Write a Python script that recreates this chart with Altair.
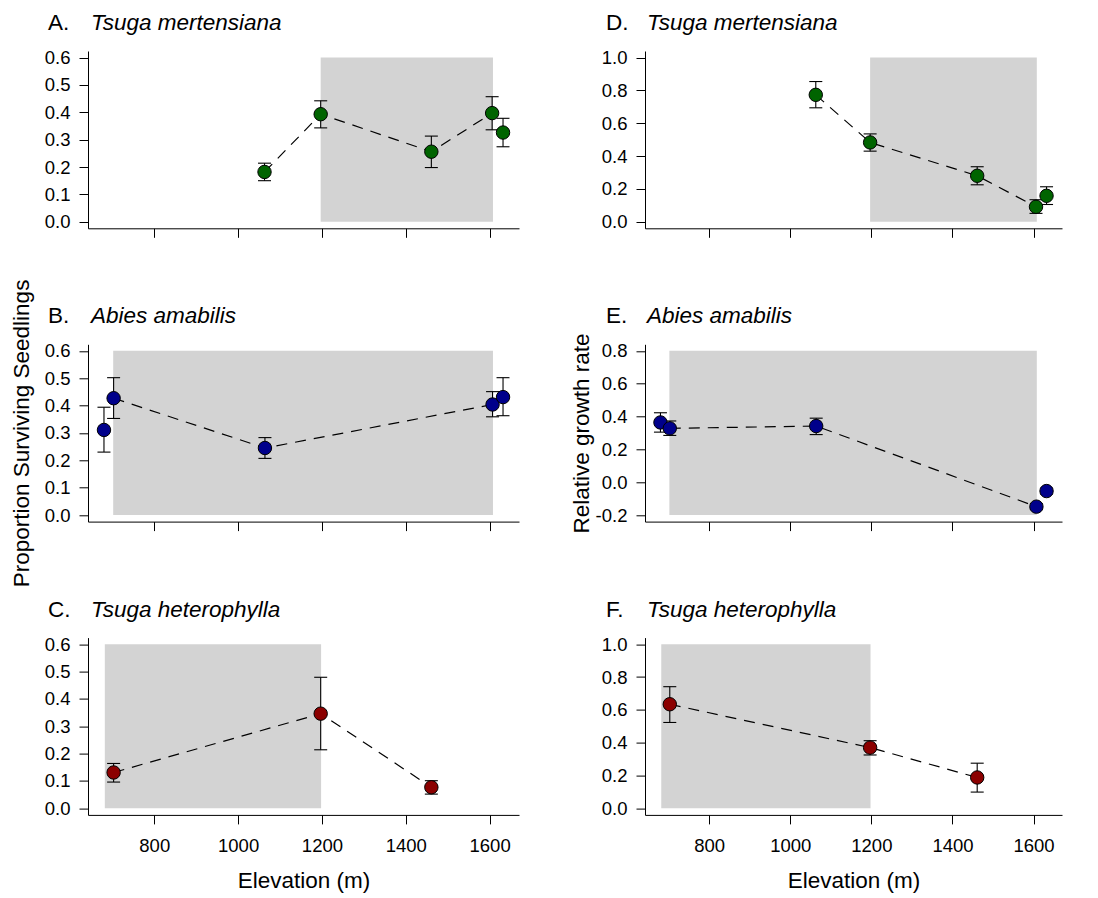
import altair as alt
import pandas as pd

# ---------------- data ----------------
X_TICKS = [800, 1000, 1200, 1400, 1600]
X_DOMAIN = [641.9, 1670.1]

# A. Tsuga mertensiana - proportion surviving seedlings
a_elev = [1063, 1197, 1461, 1606, 1632]
a_mean = [0.182, 0.393, 0.256, 0.397, 0.326]
a_lo = [0.150, 0.343, 0.198, 0.336, 0.274]
a_hi = [0.214, 0.442, 0.313, 0.457, 0.378]
a_join = [True, True, True, True, False]

# B. Abies amabilis - proportion surviving seedlings
b_elev = [680, 703, 1064, 1607, 1632]
b_mean = [0.311, 0.427, 0.245, 0.404, 0.431]
b_lo = [0.230, 0.353, 0.207, 0.359, 0.363]
b_hi = [0.394, 0.502, 0.283, 0.451, 0.502]
b_join = [False, True, True, True, False]

# C. Tsuga heterophylla - proportion surviving seedlings
c_elev = [703, 1197, 1461]
c_mean = [0.131, 0.346, 0.077]
c_lo = [0.096, 0.214, 0.052]
c_hi = [0.164, 0.479, 0.101]
c_join = [True, True, True]

# D. Tsuga mertensiana - relative growth rate
d_elev = [1063, 1197, 1461, 1606, 1632]
d_mean = [0.773, 0.483, 0.280, 0.091, 0.158]
d_lo = [0.694, 0.430, 0.225, 0.051, 0.105]
d_hi = [0.854, 0.535, 0.335, 0.134, 0.213]
d_join = [True, True, True, True, False]

# E. Abies amabilis - relative growth rate
e_elev = [680, 703, 1064, 1607, 1632]
e_mean = [0.364, 0.328, 0.342, -0.149, -0.054]
e_lo = [0.305, 0.285, 0.290, -0.167, -0.072]
e_hi = [0.423, 0.373, 0.390, -0.131, -0.036]
e_join = [False, True, True, True, False]

# F. Tsuga heterophylla - relative growth rate
f_elev = [703, 1197, 1461]
f_mean = [0.634, 0.370, 0.188]
f_lo = [0.523, 0.325, 0.099]
f_hi = [0.741, 0.412, 0.275]
f_join = [True, True, True]

# shaded elevation bands
shade_a = [1197, 1608]
shade_b = [702, 1608]
shade_c = [682, 1198]

Y_SURV = [0.0, 0.1, 0.2, 0.3, 0.4, 0.5, 0.6]
Y_RGR = [0.0, 0.2, 0.4, 0.6, 0.8, 1.0]
Y_RGR_E = [-0.2, 0.0, 0.2, 0.4, 0.6, 0.8]

GREEN = "#006400"
BLUE = "#00008B"
RED = "#8B0000"
SHADE = "#D3D3D3"

FONT = "Liberation Sans"
LAB = 18.5
TIT = 22.5
W_LEFT = 431
W_RIGHT = 417
H = 177.3
TITLE_Y = -39


def ext(lo, hi):
    r = hi - lo
    return [lo - 0.04 * r, hi + 0.04 * r]


def panel(elev, mean, lo, hi, join, color, shade, yvals, letter, species,
          width, letter_x, species_x, xlabels=False, ytitle=None, ytitle_x=-52):
    df = pd.DataFrame({"elev": elev, "mean": mean, "lo": lo, "hi": hi, "join": join})
    xs = alt.Scale(domain=X_DOMAIN, nice=False, zero=False)
    ys = alt.Scale(domain=ext(yvals[0], yvals[-1]), nice=False, zero=False)

    xaxis_kw = dict(values=X_TICKS, grid=False, tickSize=9, tickColor="black",
                    domainColor="black", tickWidth=1, domainWidth=1,
                    labelFlush=False, labelOverlap=False, format="d")
    if xlabels:
        xaxis = alt.Axis(labels=True, labelFontSize=LAB, labelColor="black",
                         labelPadding=13, labelFont=FONT,
                         title="Elevation (m)", titleFontSize=TIT, titleFont=FONT,
                         titleFontWeight="normal", titleColor="black",
                         titleX=width / 2, titleY=73, titleAlign="center",
                         titleBaseline="alphabetic", **xaxis_kw)
    else:
        xaxis = alt.Axis(labels=False, title=None, **xaxis_kw)

    ykw = dict(values=yvals, grid=False, tickSize=9, tickColor="black",
               domainColor="black", tickWidth=1, domainWidth=1,
               labelFontSize=LAB, labelColor="black", labelFont=FONT,
               labelPadding=9, labelFlush=False, labelOverlap=False,
               labelExpr="datum.value < 0 ? '-' + format(-datum.value, '.1f') : format(datum.value, '.1f')")
    if ytitle:
        yaxis = alt.Axis(title=ytitle, titleFontSize=TIT, titleFont=FONT,
                         titleFontWeight="normal", titleColor="black",
                         titleAngle=-90, titleX=ytitle_x, titleY=H / 2,
                         titleAlign="center", titleBaseline="bottom", **ykw)
    else:
        yaxis = alt.Axis(title=None, **ykw)

    def X(f):
        return alt.X(f, type="quantitative", scale=xs, axis=xaxis)

    def Y(f):
        return alt.Y(f, type="quantitative", scale=ys, axis=yaxis)

    shade_df = pd.DataFrame({"x1": [shade[0]], "x2": [shade[1]],
                             "y1": [yvals[0]], "y2": [yvals[-1]]})
    band = alt.Chart(shade_df).mark_rect(color=SHADE).encode(
        x=X("x1"), x2="x2", y=Y("y1"), y2="y2")

    base = alt.Chart(df)
    line = base.transform_filter("datum.join").mark_line(
        color="black", strokeDash=[11, 8], strokeWidth=1.2).encode(
        x=X("elev"), y=Y("mean"), order="elev:Q")
    bars = base.mark_rule(color="black", strokeWidth=1.1).encode(
        x=X("elev"), y=Y("lo"), y2="hi")
    cap_hi = base.mark_rule(color="black", strokeWidth=1.1, xOffset=-6.5, x2Offset=6.5).encode(
        x=X("elev"), x2="elev", y=Y("hi"))
    cap_lo = base.mark_rule(color="black", strokeWidth=1.1, xOffset=-6.5, x2Offset=6.5).encode(
        x=X("elev"), x2="elev", y=Y("lo"))
    pts = base.mark_circle(size=180, color=color, opacity=1, stroke="black",
                           strokeWidth=1).encode(x=X("elev"), y=Y("mean"))

    tdf1 = pd.DataFrame({"t": [letter]})
    tdf2 = pd.DataFrame({"t": [species]})
    t1 = alt.Chart(tdf1).mark_text(align="left", baseline="top", fontSize=TIT,
                                   font=FONT, color="black").encode(
        text="t:N", x=alt.value(letter_x), y=alt.value(TITLE_Y))
    t2 = alt.Chart(tdf2).mark_text(align="left", baseline="top", fontSize=TIT,
                                   font=FONT, fontStyle="italic", color="black").encode(
        text="t:N", x=alt.value(species_x), y=alt.value(TITLE_Y))

    return alt.layer(band, line, bars, cap_hi, cap_lo, pts, t1, t2).properties(
        width=width, height=H)


pA = panel(a_elev, a_mean, a_lo, a_hi, a_join, GREEN, shade_a, Y_SURV,
           "A.", "Tsuga mertensiana", W_LEFT, -40, 3)
pB = panel(b_elev, b_mean, b_lo, b_hi, b_join, BLUE, shade_b, Y_SURV,
           "B.", "Abies amabilis", W_LEFT, -40, 3,
           ytitle="Proportion Surviving Seedlings", ytitle_x=-55)
pC = panel(c_elev, c_mean, c_lo, c_hi, c_join, RED, shade_c, Y_SURV,
           "C.", "Tsuga heterophylla", W_LEFT, -40, 3, xlabels=True)
pD = panel(d_elev, d_mean, d_lo, d_hi, d_join, GREEN, shade_a, Y_RGR,
           "D.", "Tsuga mertensiana", W_RIGHT, -39, 2)
pE = panel(e_elev, e_mean, e_lo, e_hi, e_join, BLUE, shade_b, Y_RGR_E,
           "E.", "Abies amabilis", W_RIGHT, -39, 2,
           ytitle="Relative growth rate", ytitle_x=-52)
pF = panel(f_elev, f_mean, f_lo, f_hi, f_join, RED, shade_c, Y_RGR,
           "F.", "Tsuga heterophylla", W_RIGHT, -39, 2, xlabels=True)

chart = alt.concat(pA, pD, pB, pE, pC, pF, columns=2,
                   spacing={"row": 115.3, "column": 126}, bounds="flush").properties(
    padding={"left": 1, "top": 4, "right": 5, "bottom": 5})
chart = chart.configure(font=FONT, background="white").configure_view(stroke=None)

chart.save("out.html", embed_options={"renderer": "svg", "actions": False})
